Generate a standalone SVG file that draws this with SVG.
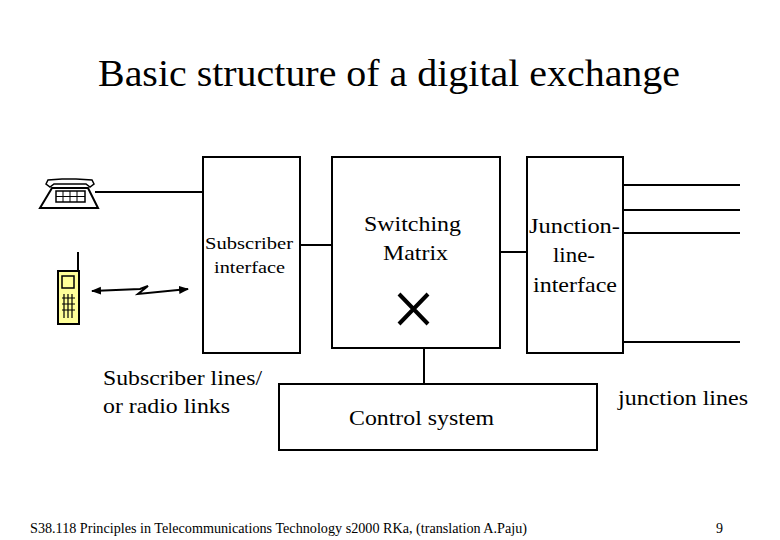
<svg xmlns="http://www.w3.org/2000/svg" width="780" height="540" viewBox="0 0 780 540">
<style>
.b{fill:#fff;stroke:#000;stroke-width:2}
.l{stroke:#000;stroke-width:2;fill:none}
text{font-family:'Liberation Serif','Times New Roman','DejaVu Serif',serif;fill:#000}
</style>
<defs><marker id="a" viewBox="0 0 10 10" refX="9" refY="5" markerWidth="5" markerHeight="5" orient="auto-start-reverse"><path d="M0,1 L10,5 L0,9z"/></marker></defs>
<rect width="780" height="540" fill="#fff"/>
<text x="98" y="86" font-size="38" textLength="582" lengthAdjust="spacingAndGlyphs">Basic structure of a digital exchange</text>
<g id="connectors">
<line class="l" x1="95" y1="192" x2="203" y2="192"/>
<line class="l" x1="300" y1="245" x2="332" y2="245"/>
<line class="l" x1="500" y1="252" x2="527" y2="252"/>
<line class="l" x1="424" y1="348" x2="424" y2="384"/>
<line class="l" x1="623" y1="185" x2="740" y2="185"/>
<line class="l" x1="623" y1="210" x2="740" y2="210"/>
<line class="l" x1="623" y1="233" x2="740" y2="233"/>
<line class="l" x1="623" y1="342" x2="740" y2="342"/>
<path class="l" d="M92,291 L140,289 L148,286 L138,294 L188,289" stroke-width="1.5" marker-start="url(#a)" marker-end="url(#a)"/>
</g>
<g id="telephone">
<path d="M46,184 L48,180 L62,179 L76,179 L92,180 L94,184 L90,187 L86,184 L54,184 L50,187z" fill="#fff" stroke="#000" stroke-width="1.5"/>
<path d="M52,188 L88,188 L98,208 L40,208z" fill="#fff" stroke="#000" stroke-width="2"/>
<rect x="56" y="191" width="29" height="11" fill="#fff" stroke="#000" stroke-width="1.5"/>
<path d="M56,196.5 H85 M63,191 V202 M70,191 V202 M77,191 V202" stroke="#000" stroke-width="1"/>
</g>
<g id="mobile">
<line class="l" x1="78" y1="252" x2="78" y2="271"/>
<rect x="58" y="271" width="21" height="53" fill="#ffff99" stroke="#000" stroke-width="2"/>
<rect x="62" y="276" width="12" height="12" fill="#ffff99" stroke="#000" stroke-width="1.5"/>
<path d="M62,298 H75 M62,304 H75 M62,310 H75 M64,294 V318 M68,294 V318 M72,294 V318" stroke="#000" stroke-width="1.2"/>
</g>
<g id="subscriber-interface">
<rect class="b" x="203" y="157" width="97" height="196"/>
<text font-size="17"><tspan x="205" y="249" textLength="88" lengthAdjust="spacingAndGlyphs">Subscriber</tspan><tspan x="214" y="273" textLength="71" lengthAdjust="spacingAndGlyphs">interface</tspan></text>
</g>
<g id="switching-matrix">
<rect class="b" x="332" y="157" width="168" height="191"/>
<text font-size="22"><tspan x="364" y="231" textLength="97" lengthAdjust="spacingAndGlyphs">Switching</tspan><tspan x="383" y="260" textLength="65" lengthAdjust="spacingAndGlyphs">Matrix</tspan></text>
<path d="M399,294 L428,324 M428,294 L399,324" stroke="#000" stroke-width="4"/>
</g>
<g id="junction-interface">
<rect class="b" x="527" y="157" width="96" height="196"/>
<text font-size="22"><tspan x="529" y="233" textLength="91" lengthAdjust="spacingAndGlyphs">Junction-</tspan><tspan x="553" y="262" textLength="42" lengthAdjust="spacingAndGlyphs">line-</tspan><tspan x="533" y="292" textLength="84" lengthAdjust="spacingAndGlyphs">interface</tspan></text>
</g>
<g id="control-system">
<rect class="b" x="279" y="384" width="318" height="66"/>
<text x="349" y="425" font-size="22" textLength="145" lengthAdjust="spacingAndGlyphs">Control system</text>
</g>
<text font-size="22"><tspan x="103" y="385" textLength="159" lengthAdjust="spacingAndGlyphs">Subscriber lines/</tspan><tspan x="103" y="413" textLength="127" lengthAdjust="spacingAndGlyphs">or radio links</tspan></text>
<text x="618" y="405" font-size="22" textLength="130" lengthAdjust="spacingAndGlyphs">junction lines</text>
<text x="30" y="533" font-size="14" textLength="497" lengthAdjust="spacingAndGlyphs">S38.118 Principles in Telecommunications Technology s2000 RKa,  (translation A.Paju)</text>
<text x="716" y="533" font-size="14">9</text>
</svg>
